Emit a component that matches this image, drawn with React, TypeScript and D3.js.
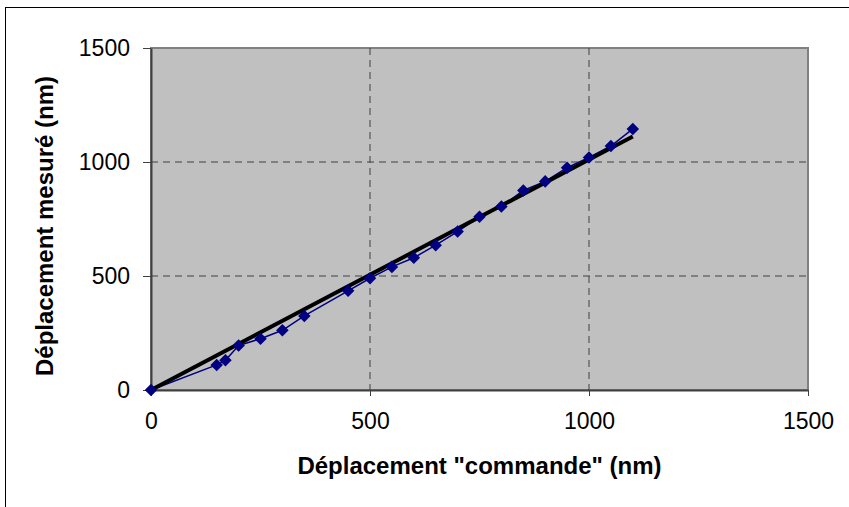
import React, { useEffect, useRef } from 'react';
import * as d3 from 'd3';

const commande = [0, 150, 170, 200, 250, 300, 350, 450, 500, 550, 600, 650, 700, 750, 800, 850, 900, 950, 1000, 1050, 1100];
const mesure = [0, 110, 130, 195, 225, 262, 325, 435, 490, 540, 580, 635, 695, 760, 805, 875, 915, 975, 1020, 1070, 1145];
const trendX = [0, 1100];
const trendY = [0, 1112];
const ticks = [0, 500, 1000, 1500];

export default function App() {
  const svgRef = useRef<SVGSVGElement>(null);

  useEffect(() => {
    if (!svgRef.current) return;
    const W = 849, H = 507;
    const svg = d3.select(svgRef.current).attr('width', W).attr('height', H).html('');
    const font = 'Liberation Sans, Arial, sans-serif';

    // outer chart frame
    svg.append('rect').attr('x', 5.5).attr('y', 7.5).attr('width', W + 10).attr('height', H + 10)
      .attr('fill', 'white').attr('stroke', 'black').attr('stroke-width', 1);

    const left = 151, right = 808, top = 48, bottom = 390;
    const x = d3.scaleLinear().domain([0, 1500]).range([left, right]);
    const y = d3.scaleLinear().domain([0, 1500]).range([bottom, top]);

    svg.append('rect').attr('x', left).attr('y', top).attr('width', right - left).attr('height', bottom - top)
      .attr('fill', '#c0c0c0').attr('stroke', '#808080').attr('stroke-width', 2);

    const g = svg.append('g');
    g.selectAll('line.vg').data(ticks.slice(1, -1)).enter().append('line')
      .attr('x1', d => x(d)).attr('x2', d => x(d)).attr('y1', top).attr('y2', bottom)
      .attr('stroke', '#404040').attr('stroke-width', 1).attr('stroke-dasharray', '7,5');
    g.selectAll('line.hg').data(ticks.slice(1, -1)).enter().append('line')
      .attr('y1', d => y(d)).attr('y2', d => y(d)).attr('x1', left).attr('x2', right)
      .attr('stroke', '#404040').attr('stroke-width', 1).attr('stroke-dasharray', '7,5');

    const fmt = d3.format('d');
    const xAxis = d3.axisBottom(x).tickValues(ticks).tickFormat(fmt).tickSize(6).tickPadding(17).tickSizeOuter(0);
    const yAxis = d3.axisLeft(y).tickValues(ticks).tickFormat(fmt).tickSize(8).tickPadding(13).tickSizeOuter(0);
    const gx = svg.append('g').attr('transform', `translate(0,${bottom})`).call(xAxis);
    const gy = svg.append('g').attr('transform', `translate(${left},0)`).call(yAxis);
    [gx, gy].forEach(a => {
      a.select('.domain').attr('stroke', '#404040').attr('stroke-width', 2);
      a.selectAll('.tick line').attr('stroke', '#404040');
      a.selectAll('.tick text').attr('fill', 'black').attr('font-size', '23px').attr('font-family', font);
    });

    const pts = commande.map((c, i) => [c, mesure[i]] as [number, number]);
    const line = d3.line<[number, number]>().x(d => x(d[0])).y(d => y(d[1]));
    svg.append('path').datum(pts).attr('fill', 'none').attr('stroke', '#000080').attr('stroke-width', 1.5).attr('d', line);

    const trend = trendX.map((t, i) => [t, trendY[i]] as [number, number]);
    svg.append('path').datum(trend).attr('fill', 'none').attr('stroke', 'black').attr('stroke-width', 4).attr('d', line);

    const sym = d3.symbol().type(d3.symbolDiamond2).size(100);
    svg.selectAll('path.pt').data(pts).enter().append('path')
      .attr('transform', d => `translate(${x(d[0])},${y(d[1])})`)
      .attr('d', sym).attr('fill', '#000080');

    svg.append('text').attr('x', (left + right) / 2).attr('y', 474).attr('text-anchor', 'middle')
      .attr('font-family', font).attr('font-weight', 'bold').attr('font-size', '24px')
      .text('Déplacement "commande" (nm)');
    svg.append('text').attr('transform', `translate(53,${(top + bottom) / 2 + 7}) rotate(-90)`).attr('text-anchor', 'middle')
      .attr('font-family', font).attr('font-weight', 'bold').attr('font-size', '24px')
      .text('Déplacement mesuré (nm)');
  }, []);

  return <svg ref={svgRef} style={{ position: 'absolute', left: 0, top: 0 }}></svg>;
}
